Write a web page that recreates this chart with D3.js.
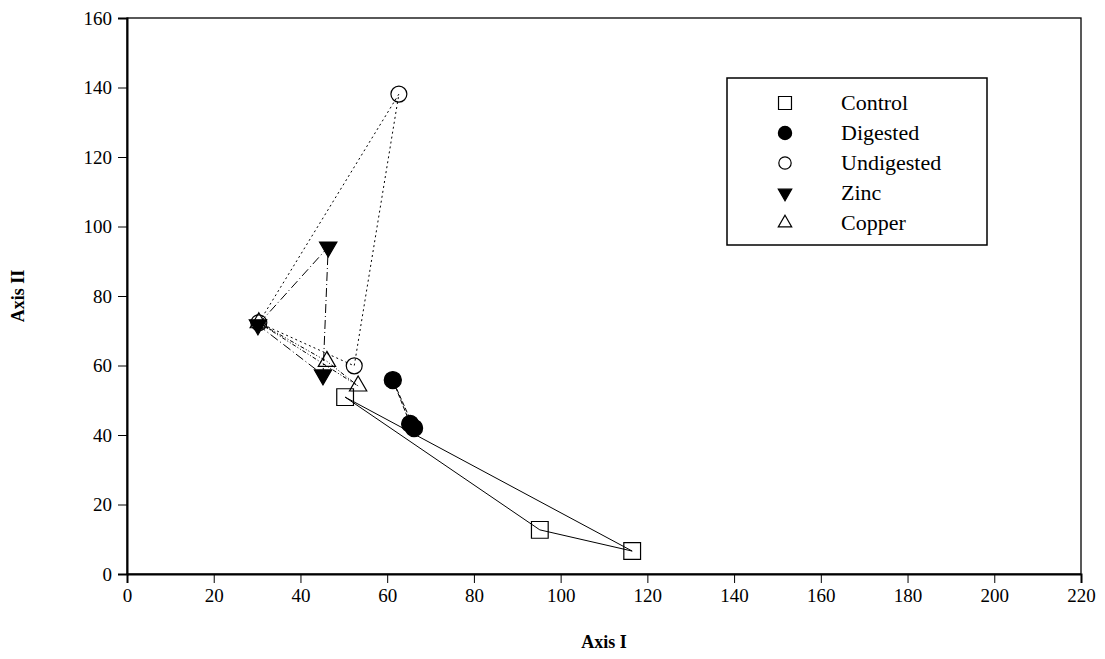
<!DOCTYPE html>
<html lang="en">
<head>
    <meta charset="UTF-8">
    <title>Axis I / Axis II</title>
    <script src="https://d3js.org/d3.v7.min.js"></script>
    <style>
        body { margin: 0; background: #fff; }
        svg text { font-family: "Liberation Serif", "Times New Roman", Times, "Tinos", "Noto Serif", "DejaVu Serif", serif !important; }
    </style>
</head>
<body>
    <script>
        // data
        var seriesNames = ['Control', 'Digested', 'Undigested', 'Zinc', 'Copper'];
        var controlX = [50.3, 95.2, 116.5];
        var controlY = [50.9, 12.7, 6.6];
        var digestedX = [61.3, 65.3, 66.2];
        var digestedY = [55.8, 43.2, 42.0];
        var undigestedX = [30.4, 52.4, 62.7];
        var undigestedY = [72.3, 59.9, 138.1];
        var zincX = [30.2, 45.2, 46.4];
        var zincY = [71.7, 57.3, 94.1];
        var copperX = [30.4, 46.1, 53.3];
        var copperY = [72.3, 61.2, 54.1];
        var xTicks = [0, 20, 40, 60, 80, 100, 120, 140, 160, 180, 200, 220];
        var yTicks = [0, 20, 40, 60, 80, 100, 120, 140, 160];

        var svgWidth = 1105, svgHeight = 659;
        var margin = {left: 127, right: 24, top: 18, bottom: 85};

        var xScale = d3.scaleLinear()
            .domain([0, 220])
            .range([margin.left, svgWidth - margin.right]);
        var yScale = d3.scaleLinear()
            .domain([0, 160])
            .range([svgHeight - margin.bottom, margin.top]);

        var series = [
            {name: 'Control', xs: controlX, ys: controlY, dash: null},
            {name: 'Digested', xs: digestedX, ys: digestedY, dash: '5,2'},
            {name: 'Undigested', xs: undigestedX, ys: undigestedY, dash: '2,3'},
            {name: 'Zinc', xs: zincX, ys: zincY, dash: '9,3,1,3'},
            {name: 'Copper', xs: copperX, ys: copperY, dash: '4,2,1,2,1,2'}
        ];

        var symbols = {
            Control: {type: d3.symbolSquare, size: 280, fill: 'none', rotate: 0},
            Digested: {type: d3.symbolCircle, size: 230, fill: '#000', rotate: 0},
            Undigested: {type: d3.symbolCircle, size: 200, fill: 'none', rotate: 0},
            Zinc: {type: d3.symbolTriangle, size: 130, fill: '#000', rotate: 180},
            Copper: {type: d3.symbolTriangle, size: 130, fill: 'none', rotate: 0}
        };

        var svg = d3.select('body')
            .append('svg')
            .attr('width', svgWidth)
            .attr('height', svgHeight);

        // frame
        svg.append('rect')
            .attr('x', xScale(0))
            .attr('y', yScale(160))
            .attr('width', xScale(220) - xScale(0))
            .attr('height', yScale(0) - yScale(160))
            .attr('fill', 'none')
            .attr('stroke', '#000')
            .attr('stroke-width', 1.3);

        var xAxis = svg.append('g')
            .attr('transform', 'translate(0,' + yScale(0) + ')')
            .call(d3.axisBottom(xScale).tickValues(xTicks).tickSize(9).tickPadding(6));
        var yAxis = svg.append('g')
            .attr('transform', 'translate(' + xScale(0) + ',0)')
            .call(d3.axisLeft(yScale).tickValues(yTicks).tickSize(9).tickPadding(6));

        [xAxis, yAxis].forEach(function(ax) {
            ax.attr('font-family', null);
            ax.select('.domain').attr('stroke-width', 2);
            ax.selectAll('text')
                .attr('font-size', '19px')
                .attr('fill', '#000');
        });

        svg.append('text')
            .attr('x', (xScale(0) + xScale(220)) / 2)
            .attr('y', 648)
            .attr('text-anchor', 'middle')
            .attr('font-size', '18px')
            .attr('font-weight', 'bold')
            .text('Axis I');

        svg.append('text')
            .attr('transform', 'translate(24,' + (yScale(80)) + ') rotate(-90)')
            .attr('text-anchor', 'middle')
            .attr('font-size', '18px')
            .attr('font-weight', 'bold')
            .text('Axis II');

        // closed polygons joining each group's points
        var line = d3.line()
            .x(function(d) { return xScale(d[0]); })
            .y(function(d) { return yScale(d[1]); })
            .curve(d3.curveLinearClosed);

        svg.selectAll('path.group')
            .data(series)
            .enter()
            .append('path')
            .attr('class', 'group')
            .attr('d', function(s) {
                return line(s.xs.map(function(x, i) { return [x, s.ys[i]]; }));
            })
            .attr('fill', 'none')
            .attr('stroke', '#000')
            .attr('stroke-width', 1)
            .attr('stroke-dasharray', function(s) { return s.dash; });

        // markers
        series.forEach(function(s) {
            var sym = symbols[s.name];
            svg.selectAll('path.m-' + s.name)
                .data(s.xs.map(function(x, i) { return [x, s.ys[i]]; }))
                .enter()
                .append('path')
                .attr('class', 'm-' + s.name)
                .attr('d', d3.symbol().type(sym.type).size(sym.size))
                .attr('transform', function(d) {
                    return 'translate(' + xScale(d[0]) + ',' + yScale(d[1]) + ') rotate(' + sym.rotate + ')';
                })
                .attr('fill', sym.fill)
                .attr('stroke', '#000')
                .attr('stroke-width', 1.2);
        });

        // legend
        var legend = svg.append('g').attr('transform', 'translate(727,78)');
        legend.append('rect')
            .attr('width', 260)
            .attr('height', 167)
            .attr('fill', '#fff')
            .attr('stroke', '#000')
            .attr('stroke-width', 1.5);

        var rows = legend.selectAll('g.row')
            .data(seriesNames)
            .enter()
            .append('g')
            .attr('class', 'row')
            .attr('transform', function(d, i) { return 'translate(0,' + (25 + i * 30) + ')'; });

        rows.append('path')
            .attr('d', function(d) {
                var sym = symbols[d];
                return d3.symbol().type(sym.type).size(sym.size * 0.6)();
            })
            .attr('transform', function(d) { return 'translate(58,0) rotate(' + symbols[d].rotate + ')'; })
            .attr('fill', function(d) { return symbols[d].fill; })
            .attr('stroke', '#000')
            .attr('stroke-width', 1.2);

        rows.append('text')
            .attr('x', 114)
            .attr('y', 7)
            .attr('font-size', '22px')
            .text(function(d) { return d; });
    </script>
</body>
</html>
